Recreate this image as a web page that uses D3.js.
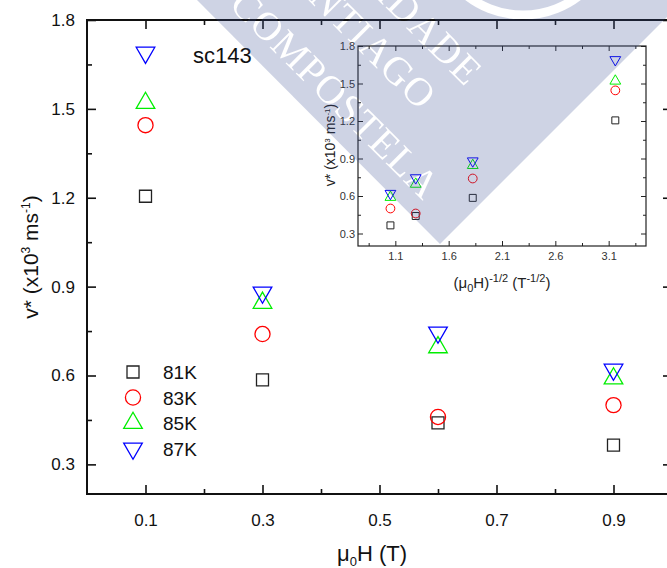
<!DOCTYPE html>
<html>
<head>
<meta charset="utf-8">
<script src="https://cdn.jsdelivr.net/npm/d3@7"></script>
<style>
  html, body { margin: 0; padding: 0; background: #fff; }
  svg { display: block; }
</style>
</head>
<body>
<svg id="chart" width="667" height="568"></svg>
<script>
// Applied field (T) and flux-front velocity v* (x10^3 m/s) for each temperature
const fieldT = [0.1, 0.3, 0.6, 0.9];
const v81K = [1.205, 0.585, 0.44, 0.365];
const v83K = [1.445, 0.74, 0.46, 0.50];
const v85K = [1.52, 0.845, 0.695, 0.59];
const v87K = [1.69, 0.88, 0.745, 0.62];

const seriesNames = ["81K", "83K", "85K", "87K"];
const seriesColors = ["#222222", "#ff0000", "#00ee00", "#0000ff"];

// Axis ticks
const xMajorMain = [0.1, 0.3, 0.5, 0.7, 0.9];
const xMinorMain = [0.2, 0.4, 0.6, 0.8];
const yMajor = [0.3, 0.6, 0.9, 1.2, 1.5, 1.8];
const yMinor = [0.45, 0.75, 1.05, 1.35, 1.65];
const xMajorInset = [1.1, 1.6, 2.1, 2.6, 3.1];
const xMinorInset = [0.85, 1.35, 1.85, 2.35, 2.85, 3.35];

const FONT = "'Liberation Sans', Arial, Helvetica, sans-serif";
const svg = d3.select("#chart");

const series = [v81K, v83K, v85K, v87K].map((vals, i) => ({
  name: seriesNames[i],
  color: seriesColors[i],
  shape: i,
  points: vals.map((v, j) => ({ h: fieldT[j], v }))
}));

// marker shapes: square, circle, up-triangle, down-triangle
function markerPath(shape, scale) {
  const types = [d3.symbolSquare, d3.symbolCircle, d3.symbolTriangle, d3.symbolTriangle];
  const sizes = [144, 180, 150, 150];
  return d3.symbol().type(types[shape]).size(sizes[shape] * scale * scale)();
}
function markerRotation(shape) { return shape === 3 ? 180 : 0; }

// Framed axes with ticks pointing inward on all four sides
function framedAxes(g, xs, ys, c) {
  const [x0, x1] = xs.range();
  const [y0, y1] = ys.range();
  const fmt = d3.format(".1f");
  const sides = [
    { gen: d3.axisBottom, s: xs, t: `translate(0,${y0})`, lab: true, horiz: true },
    { gen: d3.axisTop, s: xs, t: `translate(0,${y1})`, lab: false, horiz: true },
    { gen: d3.axisLeft, s: ys, t: `translate(${x0},0)`, lab: true, horiz: false },
    { gen: d3.axisRight, s: ys, t: `translate(${x1},0)`, lab: false, horiz: false }
  ];
  sides.forEach(sd => {
    const major = sd.horiz ? c.xMajor : c.yMajor;
    const minor = sd.horiz ? c.xMinor : c.yMinor;
    const pad = sd.horiz ? c.xPad : c.yPad;
    const gMin = g.append("g").attr("transform", sd.t)
      .call(sd.gen(sd.s).tickValues(minor).tickSize(-c.minorLen).tickSizeOuter(0).tickFormat(""));
    const gMaj = g.append("g").attr("transform", sd.t)
      .call(sd.gen(sd.s).tickValues(major).tickSize(-c.majorLen).tickSizeOuter(0).tickPadding(pad)
        .tickFormat(sd.lab ? fmt : ""));
    [gMin, gMaj].forEach(a => {
      a.select(".domain").remove();
      a.selectAll(".tick line").attr("stroke", c.color).attr("stroke-width", c.tickWidth);
      a.selectAll(".tick text").attr("fill", c.textColor).style("font-family", FONT)
        .style("font-size", c.fontSize + "px");
    });
  });
  g.append("rect")
    .attr("x", x0).attr("y", y1).attr("width", x1 - x0).attr("height", y0 - y1)
    .attr("fill", "none").attr("stroke", c.color).attr("stroke-width", c.frameWidth);
}

// ---------- main panel ----------
const mainBox = { left: 87, right: 672, top: 20, bottom: 494 };
const x = d3.scaleLinear().domain([0, 1.0]).range([mainBox.left, mainBox.right]);
const y = d3.scaleLinear().domain([0.2, 1.8]).range([mainBox.bottom, mainBox.top]);

const gMain = svg.append("g");
framedAxes(gMain, x, y, {
  xMajor: xMajorMain, xMinor: xMinorMain, yMajor, yMinor,
  majorLen: 9, minorLen: 5, xPad: 20, yPad: 12, fontSize: 17,
  color: "#111", textColor: "#111", tickWidth: 1.6, frameWidth: 2
});

series.forEach(s => {
  gMain.append("g").selectAll("path").data(s.points).join("path")
    .attr("d", markerPath(s.shape, 1))
    .attr("transform", d => `translate(${x(d.h)},${y(d.v)}) rotate(${markerRotation(s.shape)})`)
    .attr("fill", "none").attr("stroke", s.color).attr("stroke-width", 1.3);
});

// legend
const legendY = d3.scaleLinear().domain([0, 3]).range([372, 448.5]);
const gLeg = gMain.append("g");
series.forEach((s, i) => {
  gLeg.append("path")
    .attr("d", markerPath(s.shape, 1))
    .attr("transform", `translate(133,${legendY(i)}) rotate(${markerRotation(s.shape)})`)
    .attr("fill", "none").attr("stroke", s.color).attr("stroke-width", 1.3);
  gLeg.append("text").attr("x", 163).attr("y", legendY(i) + 7)
    .style("font-family", FONT).style("font-size", "19px").attr("fill", "#111")
    .text(s.name);
});

gMain.append("text").attr("x", 193).attr("y", 63)
  .style("font-family", FONT).style("font-size", "22px").attr("fill", "#111")
  .text("sc143");

// axis titles
const yTitle = gMain.append("text")
  .attr("transform", "translate(38,257) rotate(-90)")
  .attr("text-anchor", "middle")
  .style("font-family", FONT).style("font-size", "21px").attr("fill", "#111");
yTitle.append("tspan").text("v* (x10");
yTitle.append("tspan").attr("dy", -8).style("font-size", "12px").text("3");
yTitle.append("tspan").attr("dy", 8).text(" ms");
yTitle.append("tspan").attr("dy", -8).style("font-size", "12px").text("-1");
yTitle.append("tspan").attr("dy", 8).text(")");

const xTitle = gMain.append("text")
  .attr("x", 372).attr("y", 561).attr("text-anchor", "middle")
  .style("font-family", FONT).style("font-size", "22px").attr("fill", "#111");
xTitle.append("tspan").text("\u03bc");
xTitle.append("tspan").attr("dy", 5).style("font-size", "13px").text("0");
xTitle.append("tspan").attr("dy", -5).text("H (T)");

// ---------- inset: v* against (mu0 H)^(-1/2) ----------
const insetBox = { left: 358, right: 646, top: 46, bottom: 246 };
const xi = d3.scaleLinear().domain([0.75, 3.45]).range([insetBox.left, insetBox.right]);
const yi = d3.scaleLinear().domain([0.2, 1.8]).range([insetBox.bottom, insetBox.top]);

const gIn = svg.append("g");
gIn.append("rect").attr("x", insetBox.left).attr("y", insetBox.top)
  .attr("width", insetBox.right - insetBox.left).attr("height", insetBox.bottom - insetBox.top)
  .attr("fill", "#fff");
framedAxes(gIn, xi, yi, {
  xMajor: xMajorInset, xMinor: xMinorInset, yMajor, yMinor,
  majorLen: 5, minorLen: 3, xPad: 6, yPad: 3, fontSize: 11,
  color: "#222", textColor: "#333", tickWidth: 1, frameWidth: 1.2
});

series.forEach(s => {
  gIn.append("g").selectAll("path").data(s.points).join("path")
    .attr("d", markerPath(s.shape, 0.58))
    .attr("transform", d => `translate(${xi(1 / Math.sqrt(d.h))},${yi(d.v)}) rotate(${markerRotation(s.shape)})`)
    .attr("fill", "none").attr("stroke", s.color).attr("stroke-width", 1);
});

const yiTitle = gIn.append("text")
  .attr("transform", "translate(335,145) rotate(-90)")
  .attr("text-anchor", "middle")
  .style("font-family", FONT).style("font-size", "14px").attr("fill", "#222");
yiTitle.append("tspan").text("v* (x10");
yiTitle.append("tspan").attr("dy", -5).style("font-size", "8px").text("3");
yiTitle.append("tspan").attr("dy", 5).text(" ms");
yiTitle.append("tspan").attr("dy", -5).style("font-size", "8px").text("-1");
yiTitle.append("tspan").attr("dy", 5).text(")");

const xiTitle = gIn.append("text")
  .attr("x", 502).attr("y", 288).attr("text-anchor", "middle")
  .style("font-family", FONT).style("font-size", "15px").attr("fill", "#222");
xiTitle.append("tspan").text("(\u03bc");
xiTitle.append("tspan").attr("dy", 4).style("font-size", "11px").text("0");
xiTitle.append("tspan").attr("dy", -4).text("H)");
xiTitle.append("tspan").attr("dy", -6).style("font-size", "11px").text("-1/2");
xiTitle.append("tspan").attr("dy", 6).text(" (T");
xiTitle.append("tspan").attr("dy", -6).style("font-size", "11px").text("-1/2");
xiTitle.append("tspan").attr("dy", 6).text(")");

// ---------- university seal watermark overlay ----------
const defs = svg.append("defs");
const mask = defs.append("mask").attr("id", "seal-mask")
  .attr("maskUnits", "userSpaceOnUse").attr("x", 0).attr("y", 0).attr("width", 667).attr("height", 568);
mask.append("rect").attr("width", 667).attr("height", 568).attr("fill", "#fff");
const sealText = [
  { txt: "COMPOSTELA", x: 238, y: -4, anchor: "start" },
  { txt: "SANTIAGO", x: 430, y: 102, anchor: "end" },
  { txt: "UNIVERSIDADE", x: 476, y: 78, anchor: "end" }
];
sealText.forEach(t => {
  mask.append("text")
    .attr("transform", `translate(${t.x},${t.y}) rotate(45)`)
    .attr("text-anchor", t.anchor).attr("dy", "0.35em")
    .style("font-family", "'Liberation Serif', 'DejaVu Serif', serif")
    .style("font-size", "40px").style("letter-spacing", "1px")
    .attr("fill", "#000").text(t.txt);
});
mask.append("circle").attr("cx", 523).attr("cy", -76).attr("r", 91)
  .attr("fill", "none").attr("stroke", "#000").attr("stroke-width", 9);

svg.append("path")
  .attr("d", "M197,0 L684,0 L440,244 Z")
  .attr("fill", "#3a4f94").attr("fill-opacity", 0.25)
  .attr("mask", "url(#seal-mask)");
</script>
</body>
</html>
